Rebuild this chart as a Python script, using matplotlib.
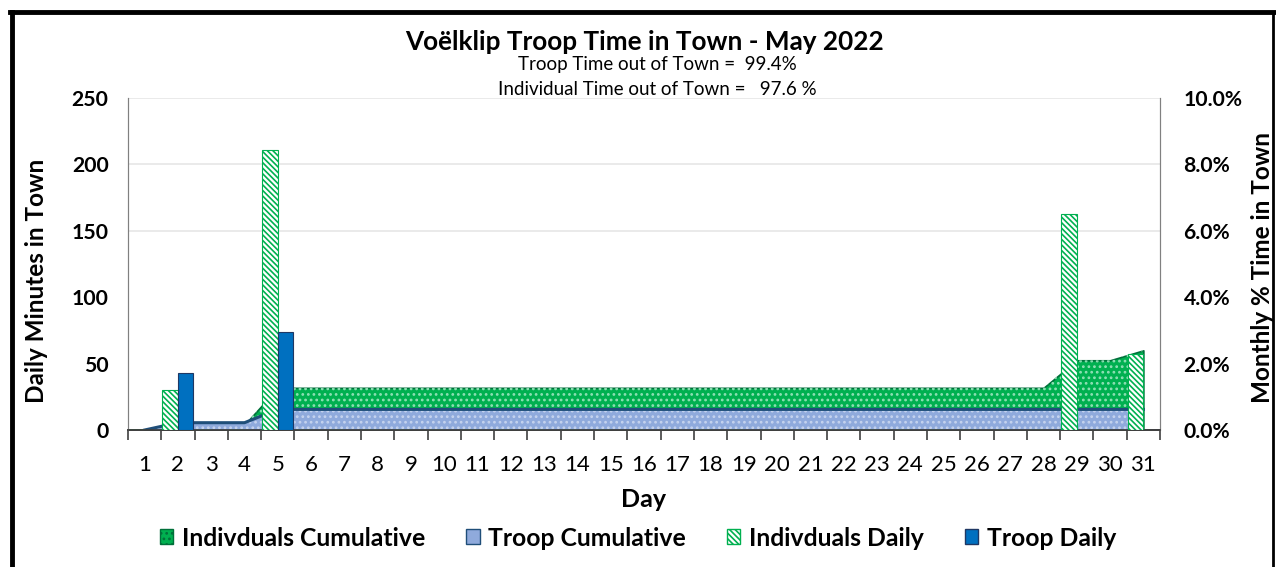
import numpy as np
import matplotlib.pyplot as plt
from matplotlib.lines import Line2D
from matplotlib.patches import Patch
from matplotlib.ticker import PercentFormatter, FixedLocator

plt.rcParams['font.family'] = ['Lato', 'DejaVu Sans']
plt.rcParams['hatch.linewidth'] = 1.2

# data
days = np.arange(1, 32)
day_labels = [str(d) for d in days]
indiv_daily = [0, 30, 0, 0, 211, 0, 0, 0, 0, 0, 0, 0, 0, 0, 0, 0,
               0, 0, 0, 0, 0, 0, 0, 0, 0, 0, 0, 0, 163, 0, 57]
troop_daily = [0, 43, 0, 0, 74, 0, 0, 0, 0, 0, 0, 0, 0, 0, 0, 0,
               0, 0, 0, 0, 0, 0, 0, 0, 0, 0, 0, 0, 0, 0, 0]
# cumulative monthly % time in town
indiv_cum = [0, 0.16, 0.16, 0.16, 1.27, 1.27, 1.27, 1.27, 1.27, 1.27, 1.27,
             1.27, 1.27, 1.27, 1.27, 1.27, 1.27, 1.27, 1.27, 1.27, 1.27, 1.27,
             1.27, 1.27, 1.27, 1.27, 1.27, 1.27, 2.1, 2.1, 2.4]
troop_cum = [0, 0.22, 0.22, 0.22, 0.62, 0.62, 0.62, 0.62, 0.62, 0.62, 0.62,
             0.62, 0.62, 0.62, 0.62, 0.62, 0.62, 0.62, 0.62, 0.62, 0.62, 0.62,
             0.62, 0.62, 0.62, 0.62, 0.62, 0.62, 0.62, 0.62, 0.62]

green = '#00B050'
green_dark = '#00703A'
troop_light = '#8FAADC'
troop_line = '#1F4E79'
troop_blue = '#0070C0'

fig = plt.figure(figsize=(12.76, 5.67), dpi=100)
ax = fig.add_axes([128 / 1276, 1 - 430 / 567, 1032 / 1276, 332 / 567])
ax2 = ax.twinx()
ax.set_zorder(ax2.get_zorder() + 1)
ax.patch.set_visible(False)

# cumulative areas on the secondary axis
for y in [6, 8, 10]:
    ax2.axhline(y, color='#E6E6E6', lw=1.2, zorder=0)
ax2.fill_between(days, 0, indiv_cum, facecolor=green, edgecolor=green_dark, lw=1.2, zorder=2)
ax2.fill_between(days, 0, indiv_cum, facecolor='none', edgecolor='#8FE0B5', hatch='...', lw=0, zorder=2)
ax2.fill_between(days, 0, troop_cum, facecolor=troop_light, edgecolor='none', lw=0, zorder=3)
ax2.fill_between(days, 0, troop_cum, facecolor='none', edgecolor='#C5D3EE', hatch='...', lw=0, zorder=3)
ax2.plot(days, troop_cum, color=troop_line, lw=2.2, zorder=4)

# daily bars on the primary axis
w = 0.465
ax.bar(days - w / 2, indiv_daily, width=w, facecolor='white', edgecolor=green,
       hatch='\\\\\\\\\\\\', lw=0.8, zorder=3)
ax.bar(days + w / 2, troop_daily, width=w, facecolor=troop_blue, edgecolor='#1F3864',
       lw=0.8, zorder=3)

ax.set_xlim(0.5, 31.5)
ax.set_ylim(0, 250)
ax2.set_ylim(0, 10)
ax.set_yticks(np.arange(0, 251, 50))
ax2.set_yticks(np.arange(0, 11, 2))
ax2.yaxis.set_major_formatter(PercentFormatter(decimals=1))

ax.set_xticks(days)
ax.set_xticklabels(day_labels)
ax.xaxis.set_minor_locator(FixedLocator(np.arange(0.5, 32, 1)))
ax.tick_params(axis='x', which='major', length=0, pad=18, labelsize=16)
ax.tick_params(axis='x', which='minor', length=7, width=1.2, color='#404040', direction='out')
ax.tick_params(axis='y', length=0, pad=14, labelsize=15.3)
ax2.tick_params(axis='y', length=0, pad=17, labelsize=15.2)
for lab in ax.get_yticklabels() + ax2.get_yticklabels():
    lab.set_fontweight('bold')

for a in (ax, ax2):
    a.spines['top'].set_visible(False)
    a.spines['left'].set_color('#808080')
    a.spines['right'].set_color('#808080')
    a.spines['bottom'].set_color('#404040')
    a.spines['bottom'].set_linewidth(1.3)

ax.set_ylabel('Daily Minutes in Town', fontsize=17.5, fontweight='bold')
ax.yaxis.set_label_coords(-0.078, 0.45)
ax2.set_ylabel('Monthly % Time in Town', fontsize=17.5, fontweight='bold')
ax2.yaxis.set_label_coords(1.088, 0.49)
ax.set_xlabel('Day', fontsize=18, fontweight='bold')
ax.xaxis.set_label_coords(0.5, -0.175)

fig.text(0.505, 1 - 50 / 567, 'Voëlklip Troop Time in Town - May 2022', ha='center',
         va='baseline', fontsize=18.8, fontweight='bold')
fig.text(0.515, 1 - 70 / 567, 'Troop Time out of Town =  99.4%', ha='center',
         va='baseline', fontsize=13.5)
fig.text(0.515, 1 - 95 / 567, 'Individual Time out of Town =   97.6 %', ha='center',
         va='baseline', fontsize=13.5)

handles = [
    Patch(facecolor=green, edgecolor=green_dark, hatch='...'),
    Patch(facecolor=troop_light, edgecolor=troop_line),
    Patch(facecolor='white', edgecolor=green, hatch='\\\\\\\\\\\\'),
    Patch(facecolor=troop_blue, edgecolor='#1F3864'),
]
labels = ['Indivduals Cumulative', 'Troop Cumulative', 'Indivduals Daily', 'Troop Daily']
fig.legend(handles, labels, loc='center', bbox_to_anchor=(0.5, 1 - 538 / 567), ncol=4,
           frameon=False, prop={'weight': 'bold', 'size': 17.8}, handlelength=0.55,
           handleheight=0.55, handletextpad=0.35, columnspacing=1.65)

# outer frame
fig.add_artist(Line2D([12 / 1276, 12 / 1276], [0, 1 - 12 / 567], color='black', lw=3.5))
fig.add_artist(Line2D([10 / 1276, 1274 / 1276], [1 - 12 / 567, 1 - 12 / 567], color='black', lw=3.5))
fig.add_artist(Line2D([1273 / 1276, 1273 / 1276], [0, 1 - 12 / 567], color='black', lw=2))

fig.savefig('out.png', dpi=100)
